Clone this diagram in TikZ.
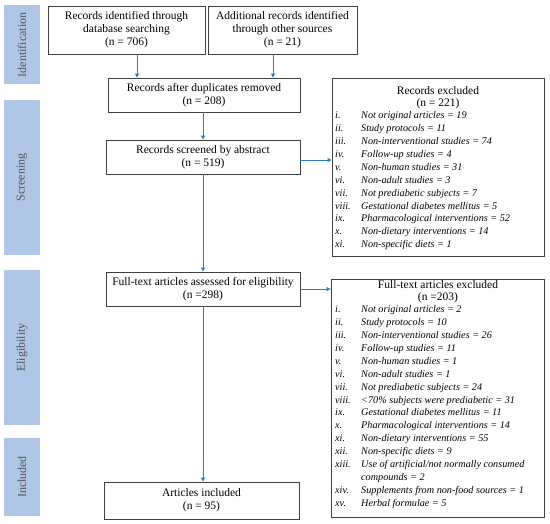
\documentclass[tikz,border=0pt]{standalone}
\usepackage{fontspec}
\setmainfont{Liberation Serif}
\usetikzlibrary{arrows.meta}
\definecolor{barblue}{HTML}{AFC6E6}
\definecolor{arrowblue}{HTML}{2E75D6}
\definecolor{boxgray}{HTML}{404040}
\definecolor{bartext}{HTML}{555555}
\tikzset{
  flowbox/.style={draw=boxgray, line width=0.9pt, align=center, inner sep=0pt, font=\fontsize{11.5}{13}\selectfont},
  sidebar/.style={fill=barblue, draw=none, inner sep=0pt},
  sidelabel/.style={rotate=90, text=bartext, font=\fontsize{12}{14}\selectfont},
  flowarrow/.style={draw=arrowblue, line width=0.9pt, -{Triangle[length=4pt,width=4pt]}},
  exclbox/.style={draw=boxgray, line width=0.9pt, inner sep=0pt},
  excltitle/.style={inner sep=0pt, align=center, font=\fontsize{11.5}{11.8}\selectfont},
  excllist/.style={inner sep=0pt, anchor=north west, align=left, font=\fontsize{10.2}{12.9}\selectfont}
}
\newcommand{\itm}[2]{\makebox[26pt][l]{\itshape #1}\textit{#2}}
\begin{document}
\begin{tikzpicture}[x=1pt,y=-1pt]
\useasboundingbox (0,0) rectangle (550,524);
% side bars
\node[sidebar, minimum width=36pt, minimum height=79pt] (b1) at (22,45) {};
\node[sidelabel] (l1) at (b1) {Identification};
\node[sidebar, minimum width=36pt, minimum height=155pt] (b2) at (22,177.5) {};
\node[sidelabel] (l2) at (b2) {Screening};
\node[sidebar, minimum width=36pt, minimum height=155pt] (b3) at (22,347.5) {};
\node[sidelabel] (l3) at (b3) {Eligibility};
\node[sidebar, minimum width=36pt, minimum height=78pt] (b4) at (22,477) {};
\node[sidelabel] (l4) at (b4) {Included};
% main boxes
\node[flowbox, minimum width=157pt, minimum height=48pt] (a1) at (126.5,30) {Records identified through\\database searching\\(n = 706)};
\node[flowbox, minimum width=149pt, minimum height=48pt] (a2) at (282.5,30) {Additional records identified\\through other sources\\(n = 21)};
\node[flowbox, minimum width=192pt, minimum height=34pt] (a3) at (204,95) {Records after duplicates removed\\(n = 208)};
\node[flowbox, minimum width=194pt, minimum height=34pt] (a4) at (203,157) {Records screened by abstract\\(n = 519)};
\node[flowbox, minimum width=194pt, minimum height=34pt] (a5) at (203,289) {Full-text articles assessed for eligibility\\(n =298)};
\node[flowbox, minimum width=195pt, minimum height=37pt] (a6) at (201.5,500.5) {Articles included\\(n = 95)};
% exclusion box 1
\node[exclbox, minimum width=212pt, minimum height=178pt] (e1) at (438,167) {};
\node[excltitle] (t1) at (438,97.5) {Records excluded\\(n = 221)};
\node[excllist] (x1) at (335,111.5) {%
\itm{i.}{Not original articles = 19}\\
\itm{ii.}{Study protocols = 11}\\
\itm{iii.}{Non-interventional studies = 74}\\
\itm{iv.}{Follow-up studies = 4}\\
\itm{v.}{Non-human studies = 31}\\
\itm{vi.}{Non-adult studies = 3}\\
\itm{vii.}{Not prediabetic subjects = 7}\\
\itm{viii.}{Gestational diabetes mellitus = 5}\\
\itm{ix.}{Pharmacological interventions = 52}\\
\itm{x.}{Non-dietary interventions = 14}\\
\itm{xi.}{Non-specific diets = 1}};
% exclusion box 2
\node[exclbox, minimum width=213pt, minimum height=238pt] (e2) at (437.5,398) {};
\node[excltitle] (t2) at (438,291.5) {Full-text articles excluded\\(n =203)};
\node[excllist] (x2) at (335,305.5) {%
\itm{i.}{Not original articles = 2}\\
\itm{ii.}{Study protocols = 10}\\
\itm{iii.}{Non-interventional studies = 26}\\
\itm{iv.}{Follow-up studies = 11}\\
\itm{v.}{Non-human studies = 1}\\
\itm{vi.}{Non-adult studies = 1}\\
\itm{vii.}{Not prediabetic subjects = 24}\\
\itm{viii.}{<70\% subjects were prediabetic = 31}\\
\itm{ix.}{Gestational diabetes mellitus = 11}\\
\itm{x.}{Pharmacological interventions = 14}\\
\itm{xi.}{Non-dietary interventions = 55}\\
\itm{xii.}{Non-specific diets = 9}\\
\itm{xiii.}{Use of artificial/not normally consumed}\\
\hspace*{26pt}\textit{compounds = 2}\\
\itm{xiv.}{Supplements from non-food sources = 1}\\
\itm{xv.}{Herbal formulae = 5}};
% arrows
\draw[flowarrow] (a1.south -| 137,0) -- (a3.north -| 137,0);
\draw[flowarrow] (a2.south -| 273,0) -- (a3.north -| 273,0);
\draw[flowarrow] (a3.south -| 203,0) -- (a4.north -| 203,0);
\draw[flowarrow] (a4.south -| 203,0) -- (a5.north -| 203,0);
\draw[flowarrow] (a5.south -| 203,0) -- (a6.north -| 203,0);
\draw[flowarrow] (a4.east |- 0,160) -- (e1.west |- 0,160);
\draw[flowarrow] (a5.east |- 0,289) -- (e2.west |- 0,289);
\end{tikzpicture}
\end{document}
